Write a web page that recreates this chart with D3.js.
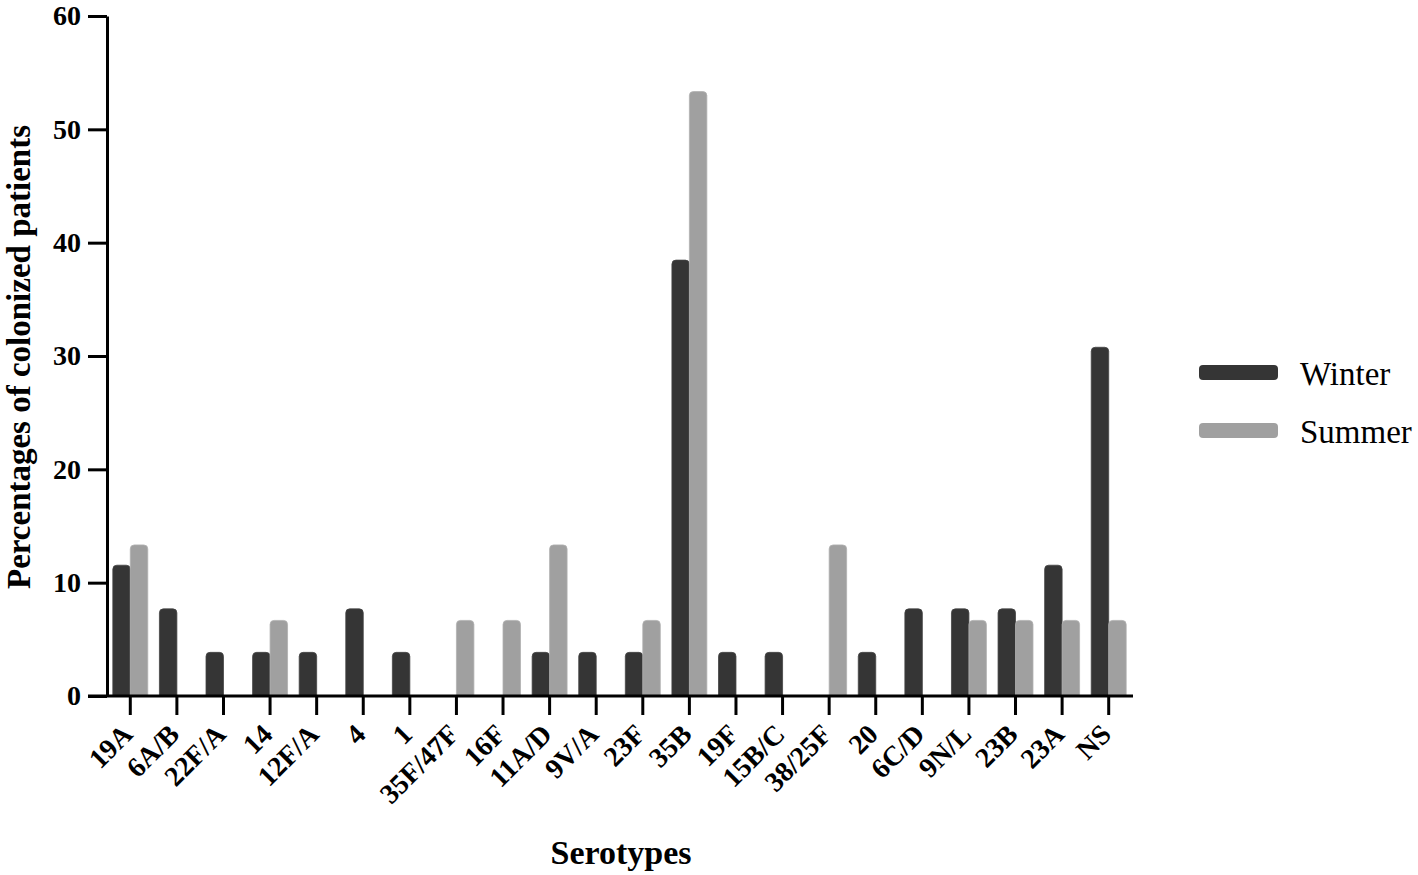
<!DOCTYPE html>
<html lang="en">
<head>
<meta charset="utf-8">
<title>Serotypes by season</title>
<script src="https://cdnjs.cloudflare.com/ajax/libs/d3/7.8.5/d3.min.js"></script>
<style>
  body { margin: 0; background: #fff; }
  svg text { font-family: "Liberation Serif", "Times New Roman", serif; }
</style>
</head>
<body>
<div id="chart"></div>
<script>
// serotype labels along the x axis
const serotypes = ['19A', '6A/B', '22F/A', '14', '12F/A', '4', '1', '35F/47F', '16F', '11A/D',
  '9V/A', '23F', '35B', '19F', '15B/C', '38/25F', '20', '6C/D', '9N/L', '23B', '23A', 'NS'];
// percentages
const winter = [11.54, 7.69, 3.85, 3.85, 3.85, 7.69, 3.85, 0, 0, 3.85,
  3.85, 3.85, 38.46, 3.85, 3.85, 0, 3.85, 7.69, 7.69, 7.69, 11.54, 30.77];
const summer = [13.33, 0, 0, 6.67, 0, 0, 0, 6.67, 6.67, 13.33,
  0, 6.67, 53.33, 0, 0, 13.33, 0, 0, 6.67, 6.67, 6.67, 6.67];
const seasons = ['Winter', 'Summer'];
const yTicks = [0, 10, 20, 30, 40, 50, 60];

const w = 1418, h = 875;
const colors = { Winter: '#353535', Summer: '#a0a0a0' };
const font = '"Liberation Serif", "Times New Roman", serif';

const svg = d3.select('#chart').append('svg')
  .attr('width', w)
  .attr('height', h);

const x = d3.scaleBand()
  .domain(serotypes)
  .range([107, 1132])
  .paddingInner(0.25)
  .paddingOuter(0.125);

const xSub = d3.scaleBand()
  .domain(seasons)
  .range([0, x.bandwidth()]);

const y = d3.scaleLinear()
  .domain([0, 60])
  .range([696, 16]);

const rows = serotypes.map((s, i) => ({ name: s, Winter: winter[i], Summer: summer[i] }));

// bars with slightly rounded tops
function topRounded(x0, y0, bw, bh, r) {
  if (bh <= 0) return '';
  r = Math.min(r, bh, bw / 2);
  return 'M' + x0 + ',' + (y0 + bh) +
    'V' + (y0 + r) +
    'Q' + x0 + ',' + y0 + ' ' + (x0 + r) + ',' + y0 +
    'H' + (x0 + bw - r) +
    'Q' + (x0 + bw) + ',' + y0 + ' ' + (x0 + bw) + ',' + (y0 + r) +
    'V' + (y0 + bh) + 'Z';
}

svg.append('g')
  .selectAll('g')
  .data(rows)
  .enter()
  .append('g')
  .attr('transform', d => 'translate(' + x(d.name) + ',0)')
  .selectAll('path')
  .data(d => seasons.map(s => ({ season: s, value: d[s] })))
  .enter()
  .append('path')
  .attr('d', d => topRounded(xSub(d.season), y(d.value), xSub.bandwidth(), y(0) - y(d.value), 4))
  .attr('fill', d => colors[d.season])
  .attr('stroke', d => d.season === 'Winter' ? '#444' : '#b0b0b0')
  .attr('stroke-width', 0.8);

// y axis
const yAxis = svg.append('g')
  .attr('transform', 'translate(107,0)')
  .call(d3.axisLeft(y).tickValues(yTicks).tickSize(19).tickSizeOuter(0).tickPadding(7));
yAxis.attr('font-family', font);
yAxis.select('.domain').attr('stroke', '#000').attr('stroke-width', 3);
yAxis.selectAll('.tick line').attr('stroke', '#000').attr('stroke-width', 3);
yAxis.selectAll('.tick text')
  .attr('font-size', 28)
  .attr('font-weight', 'bold')
  .attr('fill', '#000');

// x axis
const xAxis = svg.append('g')
  .attr('transform', 'translate(0,696)')
  .call(d3.axisBottom(x).tickSize(19).tickSizeOuter(0));
xAxis.attr('font-family', font);
xAxis.select('.domain').attr('stroke', '#000').attr('stroke-width', 3)
  .attr('d', 'M88,0H1133');
xAxis.selectAll('.tick line').attr('stroke', '#000').attr('stroke-width', 3);
xAxis.selectAll('.tick text')
  .attr('font-size', 28)
  .attr('font-weight', 'bold')
  .attr('fill', '#000')
  .attr('text-anchor', 'end')
  .attr('dy', null)
  .attr('y', 0)
  .attr('transform', 'translate(4,40) rotate(-45)');

// axis titles
svg.append('text')
  .attr('transform', 'translate(30,357) rotate(-90)')
  .attr('text-anchor', 'middle')
  .attr('font-size', 33)
  .attr('font-weight', 'bold')
  .text('Percentages of colonized patients');

svg.append('text')
  .attr('x', 621)
  .attr('y', 864)
  .attr('text-anchor', 'middle')
  .attr('font-size', 34)
  .attr('font-weight', 'bold')
  .text('Serotypes');

// legend
const legend = svg.append('g')
  .selectAll('g')
  .data(seasons)
  .enter()
  .append('g')
  .attr('transform', (d, i) => 'translate(1199,' + (365 + i * 58) + ')');

legend.append('rect')
  .attr('width', 79)
  .attr('height', 15)
  .attr('rx', 4)
  .attr('fill', d => colors[d]);

legend.append('text')
  .attr('x', 101)
  .attr('y', 8)
  .attr('dy', '0.35em')
  .attr('font-size', 33)
  .text(d => d);
</script>
</body>
</html>
